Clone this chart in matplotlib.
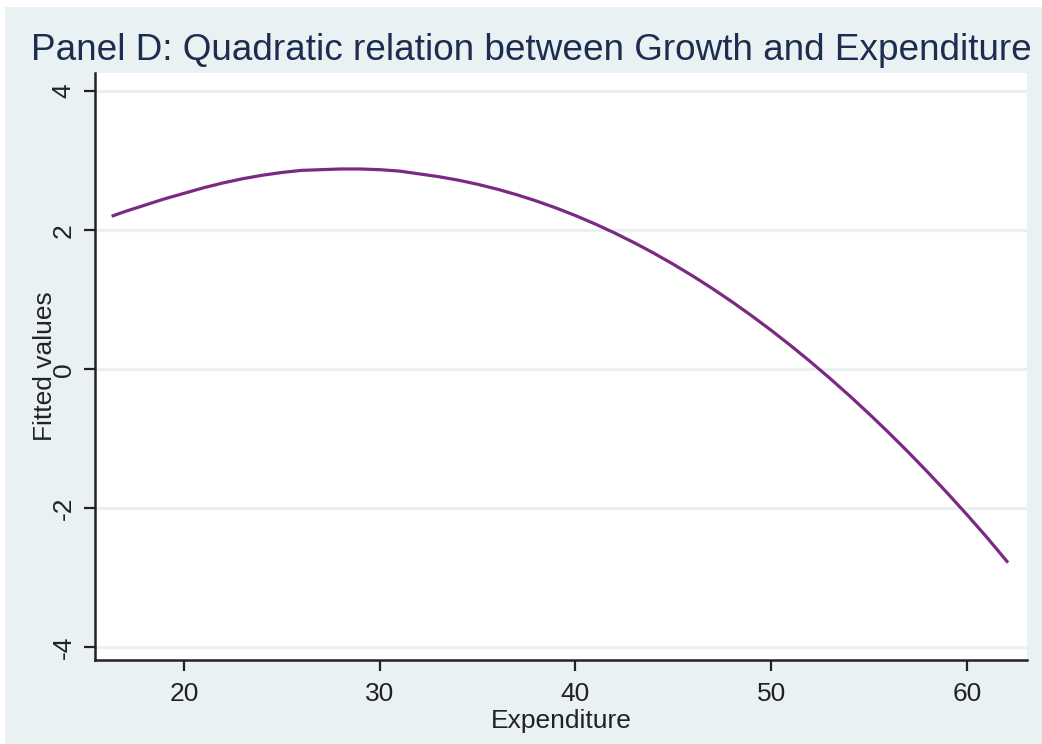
import matplotlib
matplotlib.use("Agg")
import matplotlib.pyplot as plt
from matplotlib.patches import Rectangle

# Fitted values of Growth from a quadratic in Expenditure
expenditure = [16.3, 17, 18, 19, 20, 21, 22, 23, 24, 25, 26, 27, 28, 29,
               30, 31, 32, 33, 34, 35, 36, 37, 38, 39, 40, 41, 42, 43,
               44, 45, 46, 47, 48, 49, 50, 51, 52, 53, 54, 55, 56, 57,
               58, 59, 60, 61, 62.1]
fitted = [2.20, 2.27, 2.36, 2.45, 2.53, 2.61, 2.68, 2.74, 2.79, 2.83,
          2.86, 2.87, 2.88, 2.88, 2.87, 2.85, 2.81, 2.77, 2.72, 2.66,
          2.59, 2.51, 2.42, 2.32, 2.21, 2.09, 1.96, 1.82, 1.67, 1.51,
          1.34, 1.16, 0.97, 0.77, 0.56, 0.34, 0.11, -0.13, -0.38, -0.64,
          -0.91, -1.19, -1.48, -1.78, -2.09, -2.41, -2.78]

x_ticks = [20, 30, 40, 50, 60]
y_ticks = [-4, -2, 0, 2, 4]

title = "Panel D: Quadratic relation between Growth and Expenditure"
x_label = "Expenditure"
y_label = "Fitted values"

BG = "#eaf1f3"
NAVY = "#1c2d4f"
LINE = "#7b2a83"
INK = "#222222"

plt.rcParams["font.family"] = ["Liberation Sans", "DejaVu Sans"]

fig = plt.figure(figsize=(10.42, 7.44), dpi=100)
fig.patch.set_facecolor("white")
fig.add_artist(Rectangle((5 / 1042, 0), 1, 1 - 7 / 744, transform=fig.transFigure,
                         facecolor=BG, edgecolor="none", zorder=0))

ax = fig.add_axes([95 / 1042, 1 - 660 / 744, (1027 - 95) / 1042, (660 - 73) / 744])
ax.set_facecolor("white")

ax.plot(expenditure, fitted, color=LINE, linewidth=2.3,
        solid_capstyle="butt", solid_joinstyle="round", zorder=3)

ax.set_xlim(15.45, 63.07)
ax.set_ylim(-4.18, 4.26)

ax.set_yticks(y_ticks)
ax.set_xticks(x_ticks)
ax.set_yticklabels([str(v) for v in y_ticks], rotation=90, va="center",
                   fontsize=19, color=INK)
ax.set_xticklabels([str(v) for v in x_ticks], fontsize=19, color=INK)

ax.grid(axis="y", color=BG, linewidth=2.2, zorder=1)
ax.grid(axis="x", visible=False)
ax.set_axisbelow(True)

for side in ("top", "right"):
    ax.spines[side].set_visible(False)
for side in ("left", "bottom"):
    ax.spines[side].set_color(INK)
    ax.spines[side].set_linewidth(1.8)

ax.tick_params(axis="both", direction="out", length=8, width=1.6, color=INK)
ax.tick_params(axis="y", pad=6)
ax.tick_params(axis="x", pad=8)

ax.set_xlabel(x_label, fontsize=19, color=INK, labelpad=2)
ax.set_ylabel(y_label, fontsize=19, color=INK)
ax.yaxis.set_label_coords(-38 / 932, 0.5)

fig.text(531 / 1042, 1 - 50 / 744, title, ha="center", va="center",
         fontsize=26.6, color=NAVY)

fig.savefig("out.png", dpi=100, facecolor=fig.get_facecolor())
